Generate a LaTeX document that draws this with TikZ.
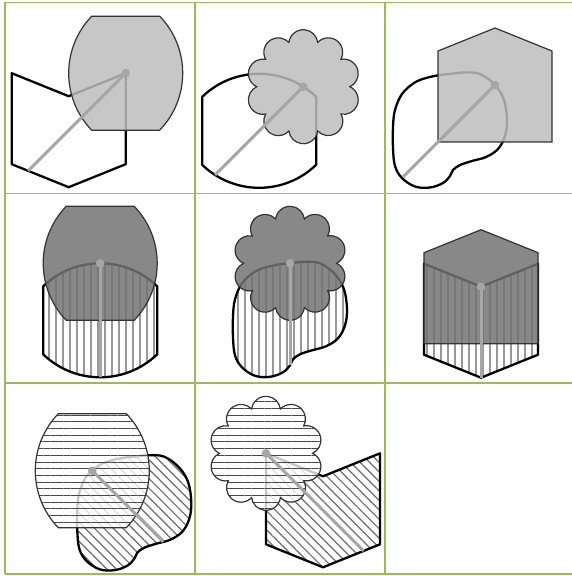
\documentclass[tikz,border=0pt]{standalone}
\usetikzlibrary{patterns.meta}
\definecolor{gridgreen}{RGB}{155,187,89}

\newcommand{\barrelpath}{(-34,-57) -- (34,-57) arc[start angle=-43.96, end angle=43.96, radius=82.1] -- (-34,57) arc[start angle=136.04, end angle=223.96, radius=82.1] -- cycle}
\newcommand{\caskpath}{(-57,-34) -- (-57,34) arc[start angle=133.96, end angle=46.04, radius=82.1] -- (57,-34) arc[start angle=-46.04, end angle=-133.96, radius=82.1] -- cycle}
\newcommand{\housepath}{(0,-57) -- (57,-34) -- (57,57) -- (-57,57) -- (-57,-34) -- cycle}
\newcommand{\chevronpath}{(-57,-57) -- (0,-34) -- (57,-57) -- (57,34) -- (0,57) -- (-57,34) -- cycle}
\newcommand{\flowerpath}{(72:46.57) \foreach \a in {90,126,...,414} {arc[start angle=\a-82.9, delta angle=165.8, radius=14.5]} -- cycle}
\newcommand{\blobpath}{plot[smooth cycle, tension=.6] coordinates {(-24,-52) (-10,-55) (0,-56) (14,-57.5) (30,-56) (45,-45) (54,-30) (57,-10) (55,6) (48,19) (36,27) (22,31) (10,35) (3,40) (0,46) (-7,53) (-20,57.5) (-35,56.5) (-48,48) (-55,36) (-57,18) (-57,-3) (-55,-20) (-48,-36) (-36,-47)}}

\begin{document}
\begin{tikzpicture}[
            x=1pt, y=-1pt,
            cellline/.style={draw=gridgreen, line width=1.2pt},
            blackshape/.style={draw=black, line width=2.3pt, line join=round},
            lightshape/.style={draw=black!80, line width=1.2pt, fill=black!26, fill opacity=.85},
            darkshape/.style={draw=black!80, line width=1.2pt, fill=black!55, fill opacity=.85},
            vhatch/.style={pattern={Lines[angle=90, distance=7pt, line width=1.1pt]}, pattern color=black!40},
            dhatch/.style={pattern={Lines[angle=-45, distance=6.7pt, line width=1.2pt]}, pattern color=black!58},
            hhatch/.style={preaction={fill=white, fill opacity=.78}, pattern={Lines[angle=0, distance=6.7pt, line width=1pt]}, pattern color=black!72, draw=black!80, line width=1.2pt},
            ray/.style={draw=black!35, line width=3pt},
            hub/.style={fill=black!35}
        ]
        \useasboundingbox (0,0) rectangle (572,576);
        \foreach \x in {5,195,385} \draw[cellline] (\x,2.3) -- (\x,574);
        \foreach \y in {2.3,193.3,383,574} \draw[cellline] (5,\y) -- (572,\y);

        % row 1
        \coordinate (d1) at (125.7,73.2);
        \coordinate (e1) at (28.1,170.8);
        \draw[blackshape, shift={(68.7,130.2)}] \chevronpath;
        \draw[lightshape, shift={(d1)}] \barrelpath;
        \draw[ray] (d1) -- (e1);
        \fill[hub] (d1) circle[radius=4.3];

        \coordinate (d2) at (303.3,86.7);
        \coordinate (e2) at (215.1,174.9);
        \draw[blackshape, shift={(259.2,130.8)}] \caskpath;
        \draw[lightshape, shift={(d2)}] \flowerpath;
        \draw[ray] (d2) -- (e2);
        \fill[hub] (d2) circle[radius=4.3];

        \coordinate (d3) at (495,85);
        \coordinate (e3) at (403,177);
        \draw[blackshape, shift={(450,130)}] \blobpath;
        \draw[lightshape, shift={(d3)}] \housepath;
        \draw[ray] (d3) -- (e3);
        \fill[hub] (d3) circle[radius=4.3];

        % row 2
        \coordinate (d4) at (100.2,263.3);
        \coordinate (e4) at (100.2,377.3);
        \draw[blackshape, vhatch, shift={(100.2,320.3)}] \caskpath;
        \draw[darkshape, shift={(d4)}] \barrelpath;
        \draw[ray] (d4) -- (e4);
        \fill[hub] (d4) circle[radius=4.3];

        \coordinate (d5) at (290,263.3);
        \coordinate (e5) at (290,365.3);
        \draw[blackshape, vhatch, shift={(290,319.3)}] \blobpath;
        \draw[darkshape, shift={(d5)}] \flowerpath;
        \draw[ray] (d5) -- (e5);
        \fill[hub] (d5) circle[radius=4.3];

        \coordinate (d6) at (481,286.7);
        \coordinate (e6) at (481,377.7);
        \draw[blackshape, vhatch, shift={(481,320.7)}] \chevronpath;
        \draw[darkshape, shift={(d6)}] \housepath;
        \draw[ray] (d6) -- (e6);
        \fill[hub] (d6) circle[radius=4.3];

        % row 3
        \coordinate (d7) at (92.3,470.7);
        \coordinate (e7) at (163.3,541.7);
        \draw[blackshape, dhatch, shift={(134.3,512.7)}] \blobpath;
        \path[hhatch, shift={(d7)}] \barrelpath;
        \draw[ray] (d7) -- (e7);
        \fill[hub] (d7) circle[radius=4.3];

        \coordinate (d8) at (266,453.3);
        \coordinate (e8) at (363.6,550.9);
        \draw[blackshape, dhatch, shift={(323,510.3)}] \chevronpath;
        \path[hhatch, shift={(d8)}] \flowerpath;
        \draw[ray] (d8) -- (e8);
        \fill[hub] (d8) circle[radius=4.3];
    \end{tikzpicture}
\end{document}
